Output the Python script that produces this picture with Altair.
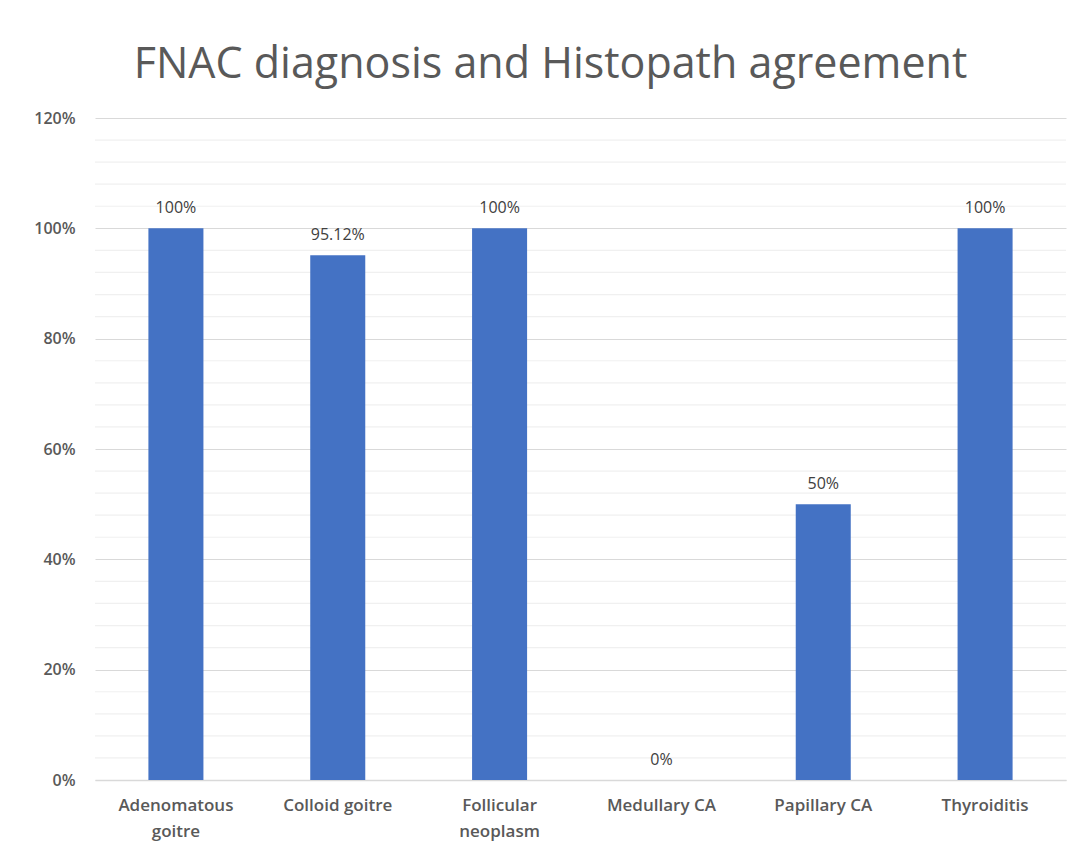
import altair as alt
import pandas as pd

categories = ["Adenomatous goitre", "Colloid goitre", "Follicular neoplasm",
              "Medullary CA", "Papillary CA", "Thyroiditis"]
values = [100, 95.12, 100, 0, 50, 100]
value_labels = ["100%", "95.12%", "100%", "0%", "50%", "100%"]
major_ticks = [0, 20, 40, 60, 80, 100, 120]
minor_grid = [v for v in range(0, 121, 4) if v % 20 != 0]

df = pd.DataFrame({"cat": categories, "val": values, "lab": value_labels})
gdf = pd.DataFrame({"g": minor_grid})

FONT = "Open Sans"

x = alt.X("cat:N", sort=categories, title=None,
          scale=alt.Scale(paddingInner=0.66, paddingOuter=0.33),
          axis=alt.Axis(labelAngle=0, labelFont=FONT, labelFontSize=17,
                        labelFontWeight=600, labelColor="#595959",
                        labelPadding=17, labelLineHeight=26, labelLimit=200,
                        labelExpr="length(datum.label) > 14 ? split(datum.label, ' ') : datum.label",
                        domainColor="#d9d9d9", domainWidth=1.5, ticks=False, grid=False))

yscale = alt.Scale(domain=[0, 120], nice=False)
yaxis = alt.Axis(values=major_ticks, labelFont=FONT, labelFontSize=16,
                 labelFontWeight=600, labelOverlap=False,
                 labelColor="#595959", labelPadding=20,
                 labelExpr="datum.value + '%'",
                 domain=False, ticks=False,
                 gridColor="#d9d9d9", gridWidth=1.2)

minor = alt.Chart(gdf).mark_rule(color="#f0f0f0", strokeWidth=1.2).encode(
    y=alt.Y("g:Q", scale=yscale, axis=yaxis, title=None))

bars = alt.Chart(df).mark_bar(color="#4472C4").encode(
    x=x, y=alt.Y("val:Q", title=None, scale=yscale, axis=yaxis))
text = alt.Chart(df).mark_text(baseline="bottom", dy=-12, font=FONT, fontSize=16,
                               fontWeight=500, color="#404040").encode(
    x=x, y="val:Q", text="lab:N")

chart = alt.layer(minor, bars, text).properties(
    width=971, height=662,
    title=alt.TitleParams("FNAC diagnosis and Histopath agreement", font=FONT,
                          fontSize=43, fontWeight="normal", color="#595959",
                          anchor="middle", offset=23, dx=-30),
    autosize=alt.AutoSizeParams(type="none"),
    padding={"left": 87, "top": 110, "right": 5, "bottom": 70},
).configure(background="white").configure_view(stroke="transparent", strokeWidth=0)

chart.save("out.html", embed_options={"renderer": "svg", "actions": False})
